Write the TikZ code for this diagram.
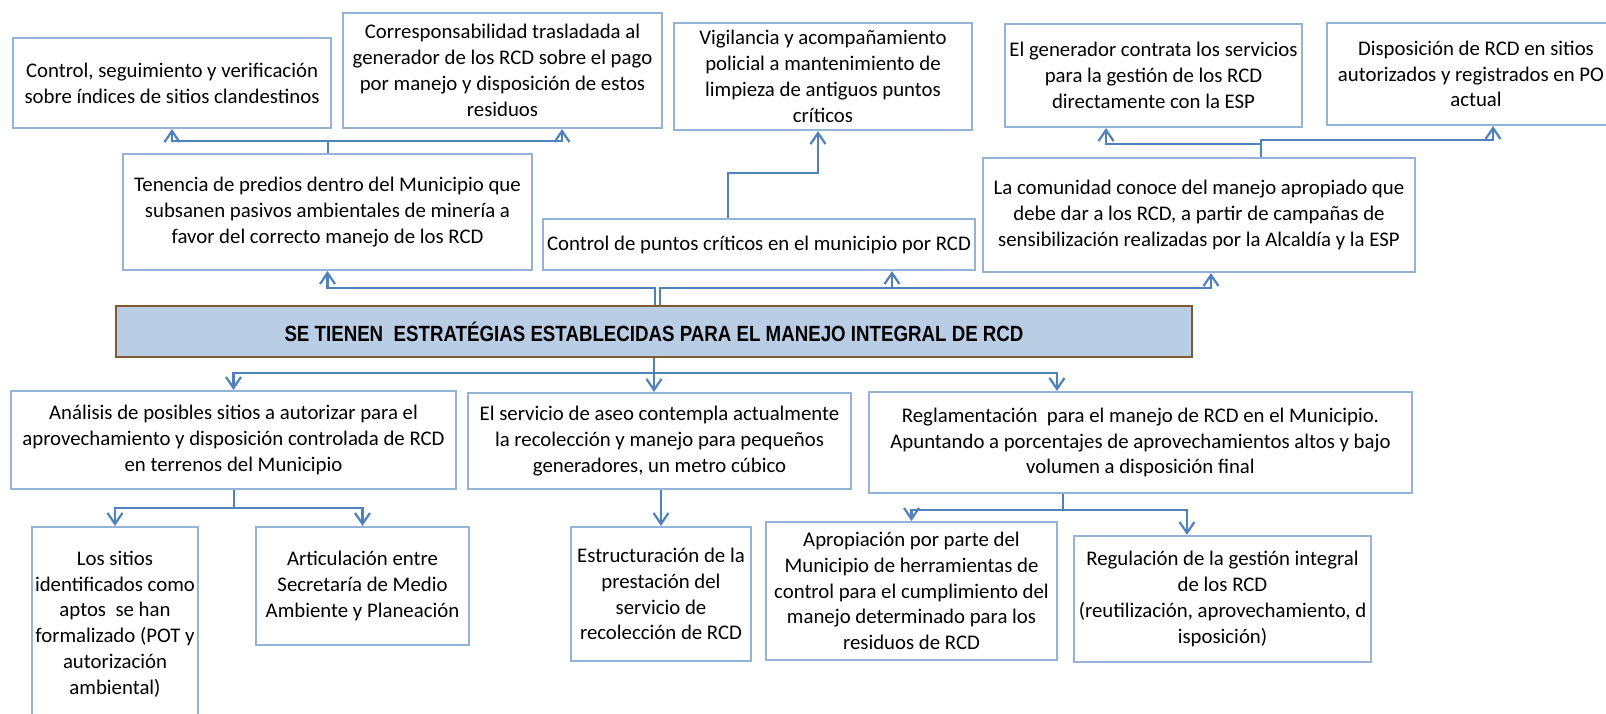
\documentclass[tikz,border=0pt]{standalone}
\usepackage{fontspec}
\setmainfont{Carlito}
\newfontfamily\titlefont{Liberation Sans}
\usetikzlibrary{arrows.meta}
\definecolor{boxblue}{HTML}{95B3D7}
\definecolor{linkblue}{HTML}{4F81BD}
\definecolor{mainfill}{HTML}{B9CDE5}
\definecolor{mainborder}{HTML}{7F5A34}
\tikzset{
  box/.style={draw=boxblue, line width=2.2pt, fill=white, align=center, inner sep=0pt,
    font=\fontsize{20.8}{25.8}\selectfont},
  mainbox/.style={draw=mainborder, line width=2.8pt, fill=mainfill, inner sep=0pt},
  arr/.style={draw=linkblue, line width=2.2pt, -{Straight Barb[length=11pt,width=15pt,line width=2.2pt]}},
  lnk/.style={draw=linkblue, line width=2.2pt}
}
\begin{document}
\begin{tikzpicture}[x=1pt,y=-1pt]
\useasboundingbox (0,0) rectangle (1606,714);
\clip (0,0) rectangle (1606,714);
\fill[white] (0,0) rectangle (1606,714);
% top row
\node[box, minimum width=318pt, minimum height=90pt] (ctrl) at (172,83) {Control, seguimiento y verificación\\sobre índices de sitios clandestinos};
\node[box, minimum width=319pt, minimum height=115pt] (corr) at (502.5,70.5) {Corresponsabilidad trasladada al\\generador de los RCD sobre el pago\\por manejo y disposición de estos\\residuos};
\node[box, minimum width=298pt, minimum height=107pt] (vig) at (823,76.5) {Vigilancia y acompañamiento\\policial a mantenimiento de\\limpieza de antiguos puntos\\críticos};
\node[box, minimum width=297pt, minimum height=103pt] (gen) at (1153.5,75.5) {El generador contrata los servicios\\para la gestión de los RCD\\directamente con la ESP};
\node[box, minimum width=298pt, minimum height=102pt] (disp) at (1476,74) {Disposición de RCD en sitios\\autorizados y registrados en PO\phantom{T}\\actual};
% middle row
\node[box, minimum width=409pt, minimum height=116pt] (ten) at (327.5,212) {Tenencia de predios dentro del Municipio que\\subsanen pasivos ambientales de minería a\\favor del correcto manejo de los RCD};
\node[box, minimum width=432pt, minimum height=51pt] (cpc) at (759,244.5) {Control de puntos críticos en el municipio por RCD};
\node[box, minimum width=432pt, minimum height=114pt] (com) at (1199,215) {La comunidad conoce del manejo apropiado que\\debe dar a los RCD, a partir de campañas de\\sensibilización realizadas por la Alcaldía y la ESP};
% main
\node[mainbox, minimum width=1076pt, minimum height=51pt] (main) at (654,331.5)
  {\resizebox{739pt}{\height}{\titlefont\bfseries\fontsize{22}{26}\selectfont SE TIENEN\ \ ESTRATÉGIAS ESTABLECIDAS PARA EL MANEJO INTEGRAL DE RCD}};
% bottom row
\node[box, minimum width=445pt, minimum height=98pt] (ana) at (233.5,440) {Análisis de posibles sitios a autorizar para el\\aprovechamiento y disposición controlada de RCD\\en terrenos del Municipio};
\node[box, minimum width=383pt, minimum height=96pt] (serv) at (659.5,441) {El servicio de aseo contempla actualmente\\la recolección y manejo para pequeños\\generadores, un metro cúbico};
\node[box, minimum width=543pt, minimum height=101pt] (reg) at (1140.5,442.5) {Reglamentación\ \ para el manejo de RCD en el Municipio.\\Apuntando a porcentajes de aprovechamientos altos y bajo\\volumen a disposición final};
% lowest row
\node[box, minimum width=166pt, minimum height=194pt] (sit) at (115,624) {Los sitios\\identificados como\\aptos\ \ se han\\formalizado (POT y\\autorización\\ambiental)};
\node[box, minimum width=213pt, minimum height=118pt] (art) at (362.5,586) {Articulación entre\\Secretaría de Medio\\Ambiente y Planeación};
\node[box, minimum width=180pt, minimum height=134pt] (est) at (661,594) {Estructuración de la\\prestación del\\servicio de\\recolección de RCD};
\node[box, minimum width=291pt, minimum height=138pt] (apr) at (911.5,591) {Apropiación por parte del\\Municipio de herramientas de\\control para el cumplimiento del\\manejo determinado para los\\residuos de RCD};
\node[box, minimum width=297pt, minimum height=126pt] (regu) at (1222.5,599) {Regulación de la gestión integral\\de los RCD\\(reutilización, aprovechamiento, d\\isposición)};
% connectors: main upward
\draw[arr] (655,0 |- main.north) -- (655,288) -| (ten.south);
\draw[arr] (660,0 |- main.north) -- (660,288) -| (1211,0 |- com.south);
\draw[arr] (892,288) -- (892,0 |- cpc.south);
% tenencia
\draw[arr] (328,0 |- ten.north) -- (328,141) -| (ctrl.south);
\draw[arr] (328,141) -| (562,0 |- corr.south);
% control puntos
\draw[arr] (728,0 |- cpc.north) -- (728,173) -| (818,0 |- vig.south);
% comunidad
\draw[arr] (1261,0 |- com.north) -- (1261,144) -| (1106,0 |- gen.south);
\draw[arr] (1261,144) -- (1261,140) -| (1493,0 |- disp.south);
% main downward
\draw[arr] (654,0 |- main.south) -- (654,373) -| (ana.north);
\draw[arr] (654,0 |- main.south) -- (654,0 |- serv.north);
\draw[arr] (654,373) -| (1057,0 |- reg.north);
% analisis
\draw[arr] (234,0 |- ana.south) -- (234,508) -| (sit.north);
\draw[arr] (234,508) -| (art.north);
% servicio
\draw[arr] (est.north |- serv.south) -- (est.north);
% reglamentacion
\draw[arr] (1063,0 |- reg.south) -- (1063,510) -| (apr.north);
\draw[arr] (1063,510) -| (1187,0 |- regu.north);
\end{tikzpicture}
\end{document}
